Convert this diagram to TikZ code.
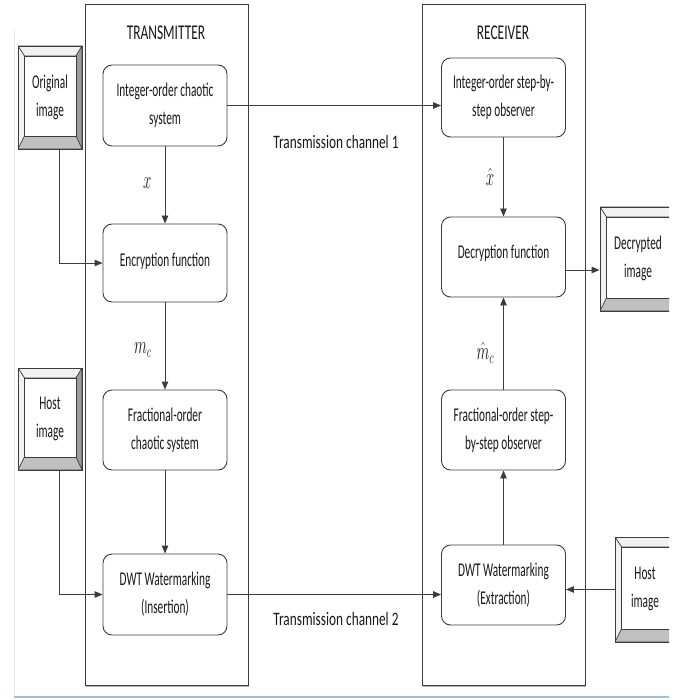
\documentclass[tikz,border=0pt]{standalone}
\usepackage{fontspec}
\setmainfont{Carlito}[FakeStretch=0.58]
\newfontfamily\headfont{Carlito}[FakeStretch=0.64]
\newfontfamily\chanfont{Carlito}[FakeStretch=0.7]
\usetikzlibrary{arrows.meta,calc,shadows}

\definecolor{edge}{HTML}{3C3C3C}
\definecolor{panellight}{HTML}{F1F1F1}
\definecolor{paneldark}{HTML}{9C9C9C}
\definecolor{panelmid}{HTML}{C0C0C0}
\definecolor{pageedge}{HTML}{E4E4E4}
\definecolor{pagerule}{HTML}{9DBEDD}

\newcommand{\mathlbl}[1]{\scalebox{0.6}[1]{\fontsize{25}{25}\selectfont$#1$}}

\tikzset{
  blocktext/.style={font=\fontsize{19.5}{28}\selectfont, align=center, text=black!90},
  block/.style={blocktext, draw=edge, line width=0.9pt, rounded corners=9pt,
    fill=white, minimum width=124pt, inner sep=0pt},
  stage/.style={draw=edge, line width=1pt, fill=white, minimum width=163pt,
    minimum height=680pt, inner sep=0pt,
    drop shadow={shadow xshift=1pt, shadow yshift=-1.5pt, opacity=0.6}},
  heading/.style={font=\headfont\fontsize{21}{24}\selectfont, text=black!90},
  chanlabel/.style={font=\chanfont\fontsize{19}{22}\selectfont, text=black!90},
  mathtext/.style={text=black!90, inner sep=1pt},
  arr/.style={draw=edge, line width=0.9pt, -{Triangle[length=8pt,width=6.5pt]}},
  bevel/.style={blocktext, draw=edge, line width=0.9pt, inner sep=0pt,
    path picture={
      \path (path picture bounding box.north west) coordinate (oNW)
            (path picture bounding box.north east) coordinate (oNE)
            (path picture bounding box.south east) coordinate (oSE)
            (path picture bounding box.south west) coordinate (oSW);
      \coordinate (iNW) at ([xshift=6.5pt,yshift=-10pt]oNW);
      \coordinate (iNE) at ([xshift=-6pt,yshift=-10pt]oNE);
      \coordinate (iSE) at ([xshift=-6pt,yshift=13pt]oSE);
      \coordinate (iSW) at ([xshift=6.5pt,yshift=13pt]oSW);
      \filldraw[fill=panellight, draw=edge, line width=0.6pt]
        (oNW) -- (oNE) -- (iNE) -- (iNW) -- cycle;
      \filldraw[fill=panellight, draw=edge, line width=0.6pt]
        (oNW) -- (iNW) -- (iSW) -- (oSW) -- cycle;
      \filldraw[fill=paneldark, draw=edge, line width=0.6pt]
        (oNE) -- (oSE) -- (iSE) -- (iNE) -- cycle;
      \filldraw[fill=panelmid, draw=edge, line width=0.6pt]
        (oSW) -- (oSE) -- (iSE) -- (iSW) -- cycle;
      \filldraw[fill=white, draw=edge, line width=0.8pt]
        (iNW) rectangle (iSE);
    }},
}

\begin{document}
\begin{tikzpicture}[x=1pt,y=-1pt]
  \useasboundingbox (0,0) rectangle (681,700);
  \fill[white] (0,0) rectangle (681,700);

  % page edge and bottom rule
  \draw[pageedge, line width=1pt] (14,30) -- (14,697);
  \draw[pagerule, line width=1.6pt] (14,697) -- (669,697);

  \begin{scope}
    \clip (0,0) rectangle (669,700);

    % the two stages
    \node[stage] (tx) at (166.5,345) {};
    \node[stage] (rx) at (503.5,345) {};
    \node[heading] (txh) at (166,33) {TRANSMITTER};
    \node[heading] (rxh) at (503,33) {RECEIVER};

    % transmitter blocks
    \node[block, minimum height=81pt] (int) at (165,105.5)
      {Integer-order chaotic\\system};
    \node[block, minimum height=78pt] (enc) at (165,263)
      {\raisebox{5.5pt}{Encryption function}};
    \node[block, minimum height=80pt] (frac) at (165,430)
      {Fractional-order\\chaotic system};
    \node[block, minimum height=81pt] (dwtI) at (165,594.5)
      {DWT Watermarking\\(Insertion)};

    % receiver blocks
    \node[block, minimum height=79pt] (iobs) at (503.5,97.5)
      {Integer-order step-by-\\step observer};
    \node[block, minimum height=80pt] (dec) at (503.5,257)
      {\raisebox{11pt}{Decryption function}};
    \node[block, minimum height=80pt] (fobs) at (503.5,430)
      {Fractional-order step-\\by-step observer};
    \node[block, minimum height=80pt] (dwtE) at (503.5,585)
      {DWT Watermarking\\(Extraction)};

    % image sources and sink
    \node[bevel, minimum width=64pt, minimum height=103pt] (orig) at (50,97.5)
      {Original\\image};
    \node[bevel, minimum width=64pt, minimum height=102pt] (hostL) at (50,419)
      {Host\\image};
    \node[bevel, minimum width=110pt, minimum height=104pt] (decimg) at (655,259) {};
    \node[blocktext] (decimgt) at (638,258) {Decrypted\\image};
    \node[bevel, minimum width=110pt, minimum height=105pt] (hostR) at (670,589.5) {};
    \node[blocktext] (hostRt) at (645,589) {Host\\image};

    % transmitter flow
    \draw[arr] (int) -- node[mathtext, pos=0.48, left=12pt] (lx) {\mathlbl{x}} (enc);
    \draw[arr] (enc) -- node[mathtext, pos=0.55, left=12pt] (lmc) {\mathlbl{m_c}} (frac);
    \draw[arr] (frac) -- (dwtI);
    \draw[arr] ([xshift=9pt]orig.south) |- (enc.west);
    \draw[arr] ([xshift=9pt]hostL.south) |- (dwtI.west);

    % channels
    \draw[arr] (int.east) -- (int.east -| iobs.west);
    \draw[arr] (dwtI.east) -- (dwtI.east -| dwtE.west);
    \node[chanlabel] (ch1) at (336,142) {Transmission channel 1};
    \node[chanlabel] (ch2) at (336,619) {Transmission channel 2};

    % receiver flow
    \draw[arr] (iobs) -- node[mathtext, pos=0.5, left=8pt] (lxh) {\mathlbl{\hat{x}}} (dec);
    \draw[arr] (fobs) -- node[mathtext, pos=0.4, left=8pt] (lmch) {\mathlbl{\hat{m}_c}} (dec);
    \draw[arr] (dwtE) -- (fobs);
    \coordinate (decout) at ([yshift=-13pt]dec.east);
    \draw[arr] (decout) -- (decout -| decimg.west);
    \draw[arr] (hostR.west) -- (hostR.west -| dwtE.east);
  \end{scope}
\end{tikzpicture}
\end{document}
